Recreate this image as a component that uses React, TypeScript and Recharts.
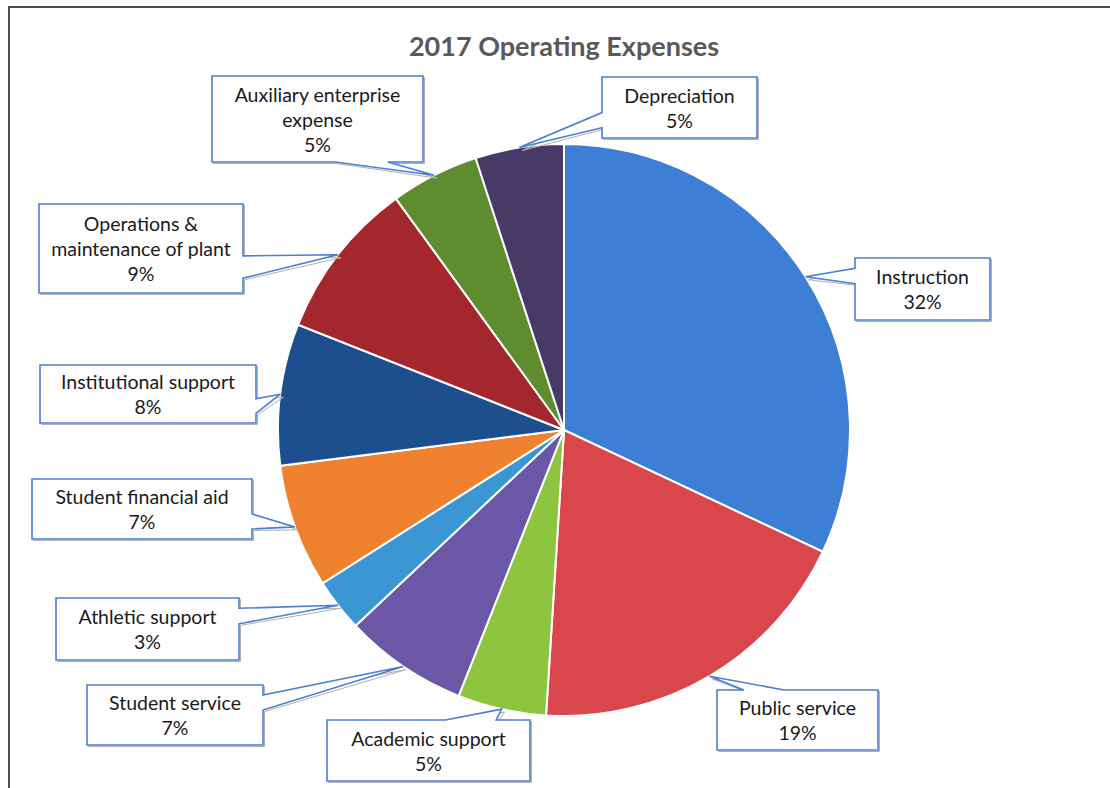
import React from 'react';
import { PieChart, Pie, Cell } from 'recharts';

const categories = [
  'Instruction',
  'Public service',
  'Academic support',
  'Student service',
  'Athletic support',
  'Student financial aid',
  'Institutional support',
  'Operations & maintenance of plant',
  'Auxiliary enterprise expense',
  'Depreciation',
];
const shares = [32, 19, 5, 7, 3, 7, 8, 9, 5, 5];
const labelLines = [
  ['Instruction'],
  ['Public service'],
  ['Academic support'],
  ['Student service'],
  ['Athletic support'],
  ['Student financial aid'],
  ['Institutional support'],
  ['Operations &', 'maintenance of plant'],
  ['Auxiliary enterprise', 'expense'],
  ['Depreciation'],
];
const colors = [
  '#3d7fd4', '#d9474c', '#8dc540', '#6a58a6', '#3b97d3',
  '#f0822f', '#1d4f8f', '#a3272c', '#5e8c2e', '#463b66',
];
// callout box layout (page pixels)
const boxes = [
  { x: 855, y: 258, w: 135, h: 62 },
  { x: 717, y: 690, w: 161, h: 60 },
  { x: 327, y: 720, w: 203, h: 61 },
  { x: 87, y: 685, w: 176, h: 60 },
  { x: 56, y: 598, w: 183, h: 62 },
  { x: 32, y: 479, w: 220, h: 60 },
  { x: 40, y: 365, w: 216, h: 58 },
  { x: 39, y: 204, w: 204, h: 89 },
  { x: 212, y: 76, w: 211, h: 86 },
  { x: 602, y: 77, w: 155, h: 61 },
];

const data = categories.map((name, i) => ({ name, value: shares[i] }));

const RAD = Math.PI / 180;

function calloutPath(b: { x: number; y: number; w: number; h: number }, tx: number, ty: number) {
  const { x, y, w, h } = b;
  const bcx = x + w / 2;
  const bcy = y + h / 2;
  const dx = (tx - bcx) / w;
  const dy = (ty - bcy) / h;
  const pts: [number, number][] = [];
  const fx = tx > bcx ? [7 / 12, 10 / 12] : [2 / 12, 5 / 12];
  const fy = ty > bcy ? [7 / 12, 10 / 12] : [2 / 12, 5 / 12];
  let side: string;
  if (Math.abs(dx) > Math.abs(dy)) side = dx < 0 ? 'left' : 'right';
  else side = dy < 0 ? 'top' : 'bottom';
  pts.push([x, y]);
  if (side === 'top') {
    pts.push([x + w * fx[0], y], [tx, ty], [x + w * fx[1], y]);
  }
  pts.push([x + w, y]);
  if (side === 'right') {
    pts.push([x + w, y + h * fy[0]], [tx, ty], [x + w, y + h * fy[1]]);
  }
  pts.push([x + w, y + h]);
  if (side === 'bottom') {
    pts.push([x + w * fx[1], y + h], [tx, ty], [x + w * fx[0], y + h]);
  }
  pts.push([x, y + h]);
  if (side === 'left') {
    pts.push([x, y + h * fy[1]], [tx, ty], [x, y + h * fy[0]]);
  }
  return 'M' + pts.map((p) => p[0].toFixed(1) + ',' + p[1].toFixed(1)).join(' L') + ' Z';
}

const renderCallout = (props: any) => {
  const { cx, cy, midAngle, outerRadius, index, percent } = props;
  const b = boxes[index];
  if (!b) return null;
  const tx = cx + outerRadius * Math.cos(-midAngle * RAD);
  const ty = cy + outerRadius * Math.sin(-midAngle * RAD);
  const lines = [...labelLines[index], `${Math.round(percent * 100)}%`];
  const lh = 25;
  const bcx = b.x + b.w / 2;
  const startY = b.y + b.h / 2 - ((lines.length - 1) * lh) / 2;
  return (
    <g key={`callout-${index}`}>
      <path
        d={calloutPath(b, tx + 1.5, ty + 1.5)}
        fill="none"
        stroke="#b0b0b0"
        strokeWidth={1}
        transform="translate(1.5,1.5)"
      />
      <path d={calloutPath(b, tx, ty)} fill="#ffffff" stroke="#4a7fd2" strokeWidth={1.6} />
      {lines.map((t, i) => (
        <text
          key={i}
          x={bcx}
          y={startY + i * lh}
          textAnchor="middle"
          dominantBaseline="central"
          fontFamily="Lato, 'Open Sans', sans-serif"
          fontSize={19.5}
          fill="#1a1a1a"
        >
          {t}
        </text>
      ))}
    </g>
  );
};

export default function App() {
  return (
    <div style={{ position: 'absolute', left: 0, top: 0, width: 1110, height: 788, background: '#fff', overflow: 'hidden' }}>
      <div
        style={{
          position: 'absolute',
          left: 8,
          top: 6,
          width: 1110,
          height: 800,
          borderTop: '2px solid #505050',
          borderLeft: '2px solid #505050',
          boxSizing: 'border-box',
        }}
      />
      <div
        style={{
          position: 'absolute',
          left: 0,
          top: 29,
          width: 1128,
          textAlign: 'center',
          fontFamily: "Lato, 'Open Sans', sans-serif",
          fontWeight: 700,
          fontSize: 27,
          color: '#595959',
        }}
      >
        2017 Operating Expenses
      </div>
      <div style={{ position: 'absolute', left: 0, top: 0 }}>
        <PieChart width={1110} height={788} margin={{ top: 0, right: 0, bottom: 0, left: 0 }}>
          <Pie
            data={data}
            dataKey="value"
            nameKey="name"
            cx={564}
            cy={430}
            outerRadius={286}
            startAngle={90}
            endAngle={-270}
            stroke="#ffffff"
            strokeWidth={2}
            label={renderCallout}
            labelLine={false}
            isAnimationActive={false}
          >
            {data.map((d, i) => (
              <Cell key={d.name} fill={colors[i]} />
            ))}
          </Pie>
        </PieChart>
      </div>
    </div>
  );
}
